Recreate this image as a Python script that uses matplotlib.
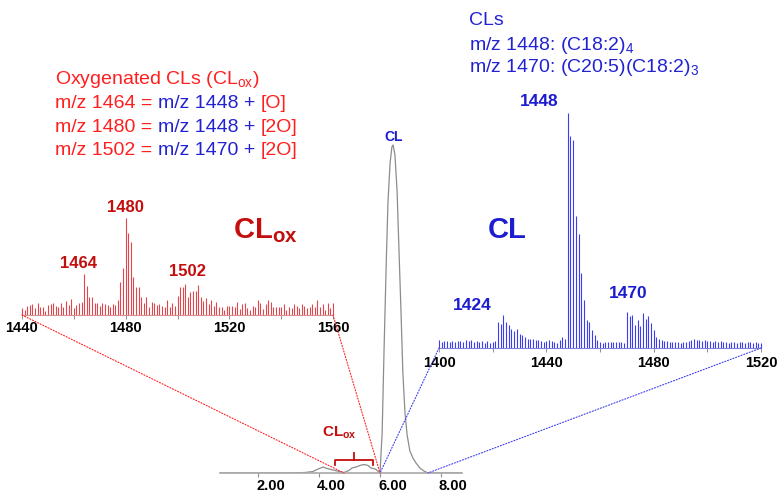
import matplotlib
matplotlib.use('Agg')
import matplotlib.pyplot as plt
import numpy as np
from matplotlib.patches import ConnectionPatch
from matplotlib.offsetbox import TextArea, HPacker, AnnotationBbox
from matplotlib.transforms import ScaledTranslation

plt.rcParams['font.family'] = ['Liberation Sans', 'DejaVu Sans']
plt.rcParams['mathtext.fontset'] = 'custom'
plt.rcParams['mathtext.rm'] = 'Liberation Sans'
plt.rcParams['mathtext.bf'] = 'Liberation Sans:bold'
plt.rcParams['mathtext.it'] = 'Liberation Sans:italic'

# ---------------------------------------------------------------------------
# data

# oxygenated CL spectrum, one bar per m/z from 1440 to 1560
ox_mz = np.arange(1440, 1561)
ox_int = [7, 5, 9, 10, 11, 7, 12, 8, 8, 4, 10, 11, 12, 9, 8, 12, 8, 14, 10, 16, 7, 10, 12, 13,
          41,
          29, 18, 18, 12, 12, 9, 12, 11, 10, 8, 11, 10, 15,
          33, 47, 97, 82, 73, 38, 28, 28,
          18, 12, 18, 8, 13, 12, 10, 11, 9, 8, 15, 8, 12, 9,
          19, 28, 28, 31, 18, 23, 24, 24, 30,
          18, 14, 17, 11, 15, 9, 13, 8, 8, 5, 9, 9, 9, 8, 13, 6, 11, 12, 7, 5,
          9, 8, 15, 12, 6, 11, 15, 13, 8, 8, 8, 8, 11, 5, 8, 7, 11, 9, 7, 11,
          9, 7, 8, 11, 8, 15, 8, 11, 5, 12, 7, 12]
ox_ticks = [1440, 1480, 1520, 1560]
ox_peaks = [1464, 1480, 1502]

# CL spectrum, one bar per m/z from 1400 to 1520
cl_mz = np.arange(1400, 1521)
cl_int = [8, 6, 7, 7, 6, 7, 6, 7, 7, 6, 8, 7, 8, 6, 7, 6, 7, 5, 7, 5, 6, 7,
          26, 24, 33, 26, 23, 19, 17, 19, 14, 13, 11, 9, 9, 9, 8,
          8, 7, 6, 7, 8, 7, 6, 5, 8, 11, 9,
          235, 212, 208, 132, 114, 75, 48, 28, 26, 18, 13, 8,
          6, 5, 6, 6, 6, 6, 6, 6, 6, 5,
          36, 32, 33, 23, 28, 22, 35, 29, 32, 25,
          18, 11, 9, 8, 7, 7, 6, 6, 6, 6, 5, 6, 6, 7, 8, 9, 8, 8, 7, 8,
          7, 7, 6, 7, 6, 7, 6, 6, 5, 6, 6, 5, 6, 6, 5, 6, 6, 5, 6, 5, 5]
cl_ticks = [1400, 1440, 1480, 1520]
cl_peaks = [1424, 1448, 1470]

# chromatogram (retention time in min, signal)
rt = [0.75, 3.05, 3.54, 3.80, 3.97, 4.13, 4.26, 4.46, 4.66, 4.82, 4.98, 5.08, 5.21, 5.34,
      5.48, 5.61, 5.70, 5.84, 5.93, 6.00, 6.07, 6.13, 6.20, 6.26, 6.33, 6.39, 6.43, 6.49,
      6.56, 6.62, 6.69, 6.75, 6.82, 6.89, 6.98, 7.08, 7.18, 7.31, 7.44, 7.57, 8.69]
tic = [0, 0, 0.5, 1.5, 4, 6, 4.5, 3, 1.5, 0.5, 2.5, 5, 6, 7.5,
       8.5, 7.5, 5, 4, 2, 0, 40, 120, 205, 270, 310, 326, 328, 318,
       282, 225, 160, 100, 60, 38, 22, 15, 10, 5, 2, 0, 0]
rt_ticks = [2, 4, 6, 8]
clox_window = (4.82, 6.00)
cl_window = (6.00, 7.57)
clox_bracket = (4.52, 5.77)

# ---------------------------------------------------------------------------
W, H = 781, 494
red_txt = '#ff1f1f'
red_dark = '#c40d0d'
red_bar = '#e0464b'
blue_txt = '#2222d2'
blue_dark = '#1c1cd0'
blue_bar = '#3d3df0'

fig = plt.figure(figsize=(W / 100, H / 100), dpi=100)


def px_axes(left, top, right, bottom):
    a = fig.add_axes([left / W, 1 - bottom / H, (right - left) / W, (bottom - top) / H])
    a.patch.set_visible(False)
    for s in ['top', 'left', 'right']:
        a.spines[s].set_visible(False)
    a.set_yticks([])
    return a


def spectrum(a, mz, inten, ticks, color, spine, pad):
    a.vlines(mz, 0, inten, color=color, lw=0.8, clip_on=False)
    a.set_xlim(mz[0], mz[-1])
    a.set_xticks(ticks)
    a.set_xticks(np.arange(ticks[0], ticks[-1] + 1, 20), minor=True)
    a.spines['bottom'].set_color(spine)
    a.spines['bottom'].set_linewidth(0.8)
    a.tick_params(axis='x', which='both', length=3, width=0.7, color='#909090',
                  pad=pad, labelsize=10.5)
    for lbl in a.get_xticklabels():
        lbl.set_fontweight('bold')


ax_ox = px_axes(22, 215, 333, 315)
ax_ox.set_ylim(0, 100)
spectrum(ax_ox, ox_mz, ox_int, ox_ticks, red_bar, '#d89090', 1.2)

ax_cl = px_axes(439, 108, 761, 348)
ax_cl.set_ylim(0, 240)
spectrum(ax_cl, cl_mz, cl_int, cl_ticks, blue_bar, '#8080e0', 2.5)

ax_rt = px_axes(220, 138, 462, 473)
ax_rt.set_ylim(0, 335)
ax_rt.plot(rt, tic, color='#8c8c8c', lw=0.9)
ax_rt.set_xlim(0.75, 8.69)
ax_rt.set_xticks(rt_ticks)
ax_rt.set_xticklabels(['%.2f' % t for t in rt_ticks])
ax_rt.spines['bottom'].set_color('#a8a8a8')
ax_rt.spines['bottom'].set_linewidth(1.2)
ax_rt.tick_params(axis='x', length=3, width=0.8, color='#909090', pad=1.5, labelsize=10.5)
shift = ScaledTranslation(-2 / 100, 0, fig.dpi_scale_trans)
for lbl in ax_rt.get_xticklabels():
    lbl.set_fontweight('bold')
    lbl.set_ha('left')
    lbl.set_transform(lbl.get_transform() + shift)

# peak labels
ox_off = {1464: (-6, 11), 1480: (0, 11), 1502: (5, 16)}
for p in ox_peaks:
    ax_ox.annotate(str(p), xy=(p, ox_int[p - ox_mz[0]]), xytext=ox_off[p],
                   textcoords='offset pixels', ha='center', va='center',
                   fontsize=12, fontweight='bold', color=red_dark)
cl_off = {1424: (-31, 9), 1448: (-29, 12), 1470: (1, 19)}
for p in cl_peaks:
    ax_cl.annotate(str(p), xy=(p, cl_int[p - cl_mz[0]]), xytext=cl_off[p],
                   textcoords='offset pixels', ha='center', va='center',
                   fontsize=12.5, fontweight='bold', color=blue_dark)

ax_ox.text(1521.4, 77, r'CL$_{\mathbf{ox}}$', ha='left', va='baseline',
           fontsize=21, fontweight='bold', color=red_dark)
ax_cl.text(1425.3, 110, 'CL', ha='center', va='baseline',
           fontsize=21, fontweight='bold', color=blue_dark)

# chromatogram labels
top = max(tic)
ax_rt.annotate('CL', xy=(rt[tic.index(top)], top), xytext=(0, 1),
               textcoords='offset pixels', ha='center', va='bottom',
               fontsize=10, fontweight='bold', color=blue_dark)
b0, b1 = clox_bracket
bm = (b0 + b1) / 2
ax_rt.plot([b0, b0, b1, b1], [8, 13, 13, 8], color=red_dark, lw=1.3, clip_on=False)
ax_rt.plot([bm, bm], [13, 20], color=red_dark, lw=1.3, clip_on=False)
ax_rt.text(4.66, 40, r'CL$_{\mathbf{ox}}$', ha='center', va='center',
           fontsize=11, fontweight='bold', color=red_dark)

# dotted connectors
dots = (0, (1, 1.6))
for a, m, t, c in [(ax_ox, ox_mz[0], clox_window[0], red_txt),
                   (ax_ox, ox_mz[-1], clox_window[1], red_txt),
                   (ax_cl, cl_mz[0], cl_window[0], blue_bar),
                   (ax_cl, cl_mz[-1], cl_window[1], blue_bar)]:
    con = ConnectionPatch(xyA=(m, 0), coordsA=a.transData, xyB=(t, 0), coordsB=ax_rt.transData,
                          color=c, lw=0.8, linestyle=dots)
    fig.add_artist(con)


# text blocks
def text_line(parts, x, y):
    boxes = [TextArea(s, textprops=dict(color=c, fontsize=14)) for s, c in parts]
    pack = HPacker(children=boxes, align='baseline', pad=0, sep=0)
    ab = AnnotationBbox(pack, (x, H - y), xycoords='figure pixels', box_alignment=(0, 0.5),
                        frameon=False, pad=0)
    fig.add_artist(ab)


text_line([('Oxygenated CLs (CL$_{\\mathregular{ox}}$)', red_txt)], 55, 79)
text_line([('m/z 1464 = ', red_txt), ('m/z 1448 + ', blue_txt), ('[O]', red_txt)], 55, 103)
text_line([('m/z 1480 = ', red_txt), ('m/z 1448 + ', blue_txt), ('[2O]', red_txt)], 55, 127)
text_line([('m/z 1502 = ', red_txt), ('m/z 1470 + ', blue_txt), ('[2O]', red_txt)], 55, 150)

text_line([('CLs', blue_txt)], 469, 20)
text_line([('m/z 1448: (C18:2)$_{\\mathregular{4}}$', blue_txt)], 469, 45)
text_line([('m/z 1470: (C20:5)(C18:2)$_{\\mathregular{3}}$', blue_txt)], 469, 67)

fig.savefig('out.png', dpi=100)
